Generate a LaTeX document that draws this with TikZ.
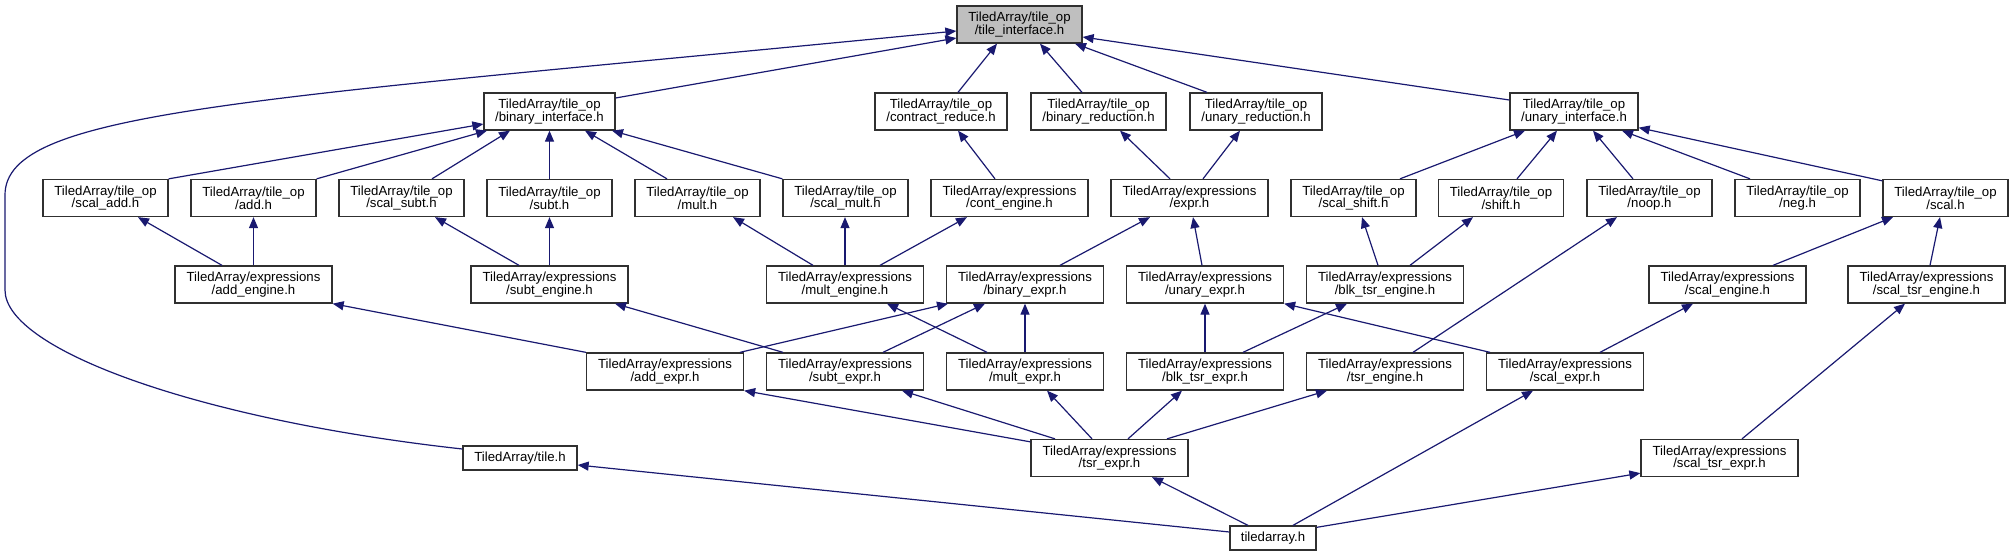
\documentclass[tikz,border=0pt]{standalone}
\usepackage{fontspec}
\setmainfont{Liberation Sans}
\usetikzlibrary{arrows.meta}
\definecolor{edgec}{RGB}{25,25,112}
\definecolor{boxc}{RGB}{48,48,48}
\definecolor{rootc}{RGB}{191,191,191}
\begin{document}
\begin{tikzpicture}[x=1pt,y=-1pt,
 box/.style={draw=boxc, line width=1.3pt, fill=white, inner sep=0pt, minimum height=37pt, minimum width=125pt, align=center, font=\fontsize{13.2}{12.7}\selectfont},
 ebox/.style={box, minimum width=157pt},
 edge/.style={draw=edgec, line width=1.2pt, -{Triangle[length=11pt,width=9pt]}}]
\useasboundingbox (0,0) rectangle (2013,556);
% row 0
\node[box, fill=rootc] (ti) at (1019.5,24.5) {TiledArray/tile\_op\\/tile\_interface.h};
% row 1
\node[box, minimum width=131pt] (bi) at (549.5,111.5) {TiledArray/tile\_op\\/binary\_interface.h};
\node[box, minimum width=132pt] (cr) at (941,111.5) {TiledArray/tile\_op\\/contract\_reduce.h};
\node[box, minimum width=135pt] (br) at (1098.5,111.5) {TiledArray/tile\_op\\/binary\_reduction.h};
\node[box, minimum width=132pt] (ur) at (1256,111.5) {TiledArray/tile\_op\\/unary\_reduction.h};
\node[box, minimum width=128pt] (ui) at (1574,111.5) {TiledArray/tile\_op\\/unary\_interface.h};
% row 2
\node[box] (sadd) at (105.5,198) {TiledArray/tile\_op\\/scal\_add.h};
\node[box] (add) at (253.5,198) {TiledArray/tile\_op\\/add.h};
\node[box] (ssubt) at (401.5,198) {TiledArray/tile\_op\\/scal\_subt.h};
\node[box] (subt) at (549.5,198) {TiledArray/tile\_op\\/subt.h};
\node[box] (mult) at (697.5,198) {TiledArray/tile\_op\\/mult.h};
\node[box] (smult) at (845.5,198) {TiledArray/tile\_op\\/scal\_mult.h};
\node[ebox] (ceng) at (1009.5,198) {TiledArray/expressions\\/cont\_engine.h};
\node[ebox] (expr) at (1189.5,198) {TiledArray/expressions\\/expr.h};
\node[box] (sshift) at (1353.5,198) {TiledArray/tile\_op\\/scal\_shift.h};
\node[box] (shift) at (1501,198) {TiledArray/tile\_op\\/shift.h};
\node[box] (noop) at (1649.5,198) {TiledArray/tile\_op\\/noop.h};
\node[box] (neg) at (1797.5,198) {TiledArray/tile\_op\\/neg.h};
\node[box] (scal) at (1945.5,198) {TiledArray/tile\_op\\/scal.h};
% row 3
\node[ebox] (aeng) at (253.5,284.5) {TiledArray/expressions\\/add\_engine.h};
\node[ebox] (seng) at (549.5,284.5) {TiledArray/expressions\\/subt\_engine.h};
\node[ebox] (meng) at (845,284.5) {TiledArray/expressions\\/mult\_engine.h};
\node[ebox] (bexpr) at (1025,284.5) {TiledArray/expressions\\/binary\_expr.h};
\node[ebox] (uexpr) at (1205,284.5) {TiledArray/expressions\\/unary\_expr.h};
\node[ebox] (bteng) at (1385,284.5) {TiledArray/expressions\\/blk\_tsr\_engine.h};
\node[ebox] (sceng) at (1727.5,284.5) {TiledArray/expressions\\/scal\_engine.h};
\node[ebox] (steng) at (1926.5,284.5) {TiledArray/expressions\\/scal\_tsr\_engine.h};
% row 4
\node[ebox] (aexpr) at (665,371.5) {TiledArray/expressions\\/add\_expr.h};
\node[ebox] (sexpr) at (845,371.5) {TiledArray/expressions\\/subt\_expr.h};
\node[ebox] (mexpr) at (1025,371.5) {TiledArray/expressions\\/mult\_expr.h};
\node[ebox] (btexpr) at (1205,371.5) {TiledArray/expressions\\/blk\_tsr\_expr.h};
\node[ebox] (teng) at (1385,371.5) {TiledArray/expressions\\/tsr\_engine.h};
\node[ebox] (scexpr) at (1565,371.5) {TiledArray/expressions\\/scal\_expr.h};
% row 5
\node[box, minimum width=114pt, minimum height=24pt] (tile) at (520,458) {TiledArray/tile.h};
\node[ebox] (texpr) at (1109.5,458) {TiledArray/expressions\\/tsr\_expr.h};
\node[ebox] (stexpr) at (1719.5,458) {TiledArray/expressions\\/scal\_tsr\_expr.h};
% row 6
\node[box, minimum width=86pt, minimum height=24pt] (ta) at (1273,538) {tiledarray.h};
% edges to tile_interface
\draw[edge] ([yshift=13.5pt]bi.east) -- ([yshift=-13.5pt]ti.west);
\draw[edge] ([yshift=9pt]tile.west) .. controls (200,420) and (5,350) .. (5,290) -- (5,195) .. controls (5,110) and (250,100) .. ([yshift=-6.5pt]ti.west);
\draw[edge] ([xshift=17pt]cr.north) -- ([xshift=-22.5pt]ti.south);
\draw[edge] ([xshift=-16.5pt]br.north) -- ([xshift=20.5pt]ti.south);
\draw[edge] ([xshift=-49pt]ur.north) -- ([xshift=55.5pt]ti.south);
\draw[edge] ([yshift=11.5pt]ui.west) -- ([yshift=-12.5pt]ti.east);
% edges to binary_interface
\draw[edge] (sadd.north east) -- ([yshift=-12.5pt]bi.west);
\draw[edge] (add.north east) -- ([xshift=-62.5pt]bi.south);
\draw[edge] ([xshift=30.5pt]ssubt.north) -- ([xshift=-39.5pt]bi.south);
\draw[edge] (subt.north) -- (bi.south);
\draw[edge] ([xshift=-30.5pt]mult.north) -- ([xshift=35.5pt]bi.south);
\draw[edge] (smult.north west) -- ([xshift=62.5pt]bi.south);
% row 2 -> row 1
\draw[edge] ([xshift=-14.5pt]ceng.north) -- ([xshift=17pt]cr.south);
\draw[edge] ([xshift=-19.5pt]expr.north) -- ([xshift=21.5pt]br.south);
\draw[edge] ([xshift=13.5pt]expr.north) -- ([xshift=-16pt]ur.south);
\draw[edge] ([xshift=46.5pt]sshift.north) -- ([xshift=-49pt]ui.south);
\draw[edge] ([xshift=16pt]shift.north) -- ([xshift=-17pt]ui.south);
\draw[edge] ([xshift=-16.5pt]noop.north) -- ([xshift=19pt]ui.south);
\draw[edge] ([xshift=-47.5pt]neg.north) -- ([xshift=48pt]ui.south);
\draw[edge] ([yshift=-2pt]scal.north west) -- ([yshift=3pt]ui.south east);
% row 3 -> row 2
\draw[edge] ([xshift=-31.5pt]aeng.north) -- ([xshift=32.5pt]sadd.south);
\draw[edge] (aeng.north) -- (add.south);
\draw[edge] ([xshift=-30.5pt]seng.north) -- ([xshift=33.5pt]ssubt.south);
\draw[edge] (seng.north) -- (subt.south);
\draw[edge] ([xshift=-32pt]meng.north) -- ([xshift=35.5pt]mult.south);
\draw[edge] (meng.north) -- ([xshift=-0.5pt]smult.south);
\draw[edge] ([xshift=35pt]meng.north) -- ([xshift=-42.5pt]ceng.south);
\draw[edge] ([xshift=35pt]bexpr.north) -- ([xshift=-39.5pt]expr.south);
\draw[edge] ([xshift=-3pt]uexpr.north) -- ([xshift=3.5pt]expr.south);
\draw[edge] ([xshift=-7pt]bteng.north) -- ([xshift=8.5pt]sshift.south);
\draw[edge] ([xshift=25pt]bteng.north) -- ([xshift=-28pt]shift.south);
\draw[edge] ([xshift=28pt]teng.north) -- ([xshift=-32.5pt]noop.south);
\draw[edge] ([xshift=45.5pt]sceng.north) -- ([xshift=-52.5pt]scal.south);
\draw[edge] ([xshift=3.5pt]steng.north) -- ([xshift=-5.5pt]scal.south);
% row 4 -> row 3
\draw[edge] (aexpr.north west) -- (aeng.south east);
\draw[edge] ([xshift=-62pt]sexpr.north) -- ([xshift=65.5pt]seng.south);
\draw[edge] ([xshift=75pt]aexpr.north) -- ([xshift=-77pt]bexpr.south);
\draw[edge] ([xshift=38pt]sexpr.north) -- ([xshift=-40pt]bexpr.south);
\draw[edge] ([xshift=-38pt]mexpr.north) -- ([xshift=42pt]meng.south);
\draw[edge] (mexpr.north) -- (bexpr.south);
\draw[edge] (btexpr.north) -- (uexpr.south);
\draw[edge] ([xshift=-75pt]scexpr.north) -- (uexpr.south east);
\draw[edge] ([xshift=38pt]btexpr.north) -- ([xshift=-38pt]bteng.south);
\draw[edge] ([xshift=35pt]scexpr.north) -- ([xshift=-34.5pt]sceng.south);
\draw[edge] ([xshift=22.5pt]stexpr.north) -- ([xshift=-21.5pt]steng.south);
% row 5 -> row 4
\draw[edge] ([yshift=-3pt]texpr.north west) -- (aexpr.south east);
\draw[edge] ([xshift=-54.5pt]texpr.north) -- ([xshift=57pt]sexpr.south);
\draw[edge] ([xshift=-17.5pt]texpr.north) -- ([xshift=22pt]mexpr.south);
\draw[edge] ([xshift=18.5pt]texpr.north) -- ([xshift=-23pt]btexpr.south);
\draw[edge] ([xshift=57.5pt]texpr.north) -- ([xshift=-58pt]teng.south);
% row 6
\draw[edge] ([yshift=6pt]ta.west) -- ([yshift=-7pt]tile.east);
\draw[edge] ([xshift=-25pt]ta.north) -- ([xshift=42.5pt]texpr.south);
\draw[edge] ([xshift=20pt]ta.north) -- ([xshift=-32pt]scexpr.south);
\draw[edge] ([yshift=-2pt]ta.north east) -- ([yshift=4pt]stexpr.south west);
\end{tikzpicture}
\end{document}
